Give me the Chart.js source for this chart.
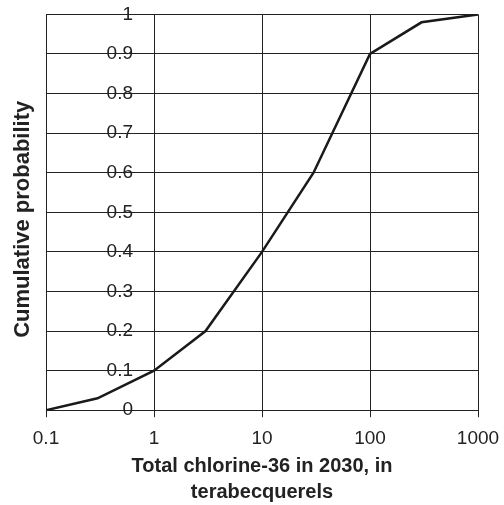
<!DOCTYPE html>
<html>
<head>
<meta charset="utf-8">
<script src="https://cdn.jsdelivr.net/npm/chart.js@4"></script>
<style>
  body { margin: 0; background: #fff; }
  canvas { display: block; }
</style>
</head>
<body>
<canvas id="grafico" width="504" height="505"></canvas>
<script>
const totalCl36 = [0.1, 0.3, 1, 3, 10, 30, 100, 300, 1000];
const probAcum = [0, 0.03, 0.1, 0.2, 0.4, 0.6, 0.9, 0.98, 1];
const xTicks = [0.1, 1, 10, 100, 1000];
const yTicks = [0, 0.1, 0.2, 0.3, 0.4, 0.5, 0.6, 0.7, 0.8, 0.9, 1];

const tinta = '#222';

// titulo del eje y + separar las etiquetas del eje y (que cruza en x=1)
const extrasEjeY = {
  id: 'extrasEjeY',
  beforeDraw(chart) {
    const items = chart.scales.y.getLabelItems();
    if (!items._movidos) {
      items.forEach(it => { it.options.translation[0] -= 21; });
      items._movidos = true;
    }
  },
  afterDraw(chart) {
    const { ctx, chartArea } = chart;
    ctx.save();
    ctx.translate(23, (chartArea.top + chartArea.bottom) / 2 + 7);
    ctx.rotate(-Math.PI / 2);
    ctx.font = 'bold 22px "Liberation Sans", Arial, sans-serif';
    ctx.fillStyle = tinta;
    ctx.textAlign = 'center';
    ctx.textBaseline = 'middle';
    ctx.fillText('Cumulative probability', 0, 0);
    ctx.restore();
  }
};

const ctx = document.getElementById('grafico').getContext('2d');

new Chart(ctx, {
  type: 'line',
  data: {
    datasets: [{
      data: totalCl36.map((x, i) => ({ x: x, y: probAcum[i] })),
      borderColor: '#1a1a1a',
      borderWidth: 2.5,
      pointRadius: 0,
      tension: 0,
      fill: false
    }]
  },
  options: {
    responsive: false,
    animation: false,
    layout: { padding: { left: 46, right: 26, top: 3, bottom: 0 } },
    plugins: {
      legend: { display: false },
      tooltip: { enabled: false }
    },
    scales: {
      x: {
        type: 'logarithmic',
        min: 0.1,
        max: 1000,
        afterBuildTicks: s => { s.ticks = xTicks.map(v => ({ value: v })); },
        afterFit: s => { s.paddingLeft = 0; s.paddingRight = 0; },
        grid: { color: tinta, lineWidth: 1, tickLength: 7 },
        border: { color: tinta, width: 1 },
        ticks: {
          color: tinta,
          padding: 10,
          maxRotation: 0,
          autoSkip: false,
          font: { family: '"Liberation Sans", Arial, sans-serif', size: 19 },
          callback: v => String(v)
        },
        title: {
          display: true,
          text: ['Total chlorine-36 in 2030, in', 'terabecquerels'],
          color: tinta,
          padding: { top: -7, bottom: 0 },
          font: { family: '"Liberation Sans", Arial, sans-serif', size: 20, weight: 'bold', lineHeight: 1.3 }
        }
      },
      y: {
        type: 'linear',
        position: { x: 1 },
        min: 0,
        max: 1,
        afterBuildTicks: s => { s.ticks = yTicks.map(v => ({ value: v })); },
        grid: { color: tinta, lineWidth: 1, tickLength: 6 },
        border: { color: tinta, width: 1 },
        ticks: {
          color: tinta,
          font: { family: '"Liberation Sans", Arial, sans-serif', size: 19 },
          callback: v => String(Number(v.toFixed(1)))
        }
      }
    }
  },
  plugins: [extrasEjeY]
});
</script>
</body>
</html>
